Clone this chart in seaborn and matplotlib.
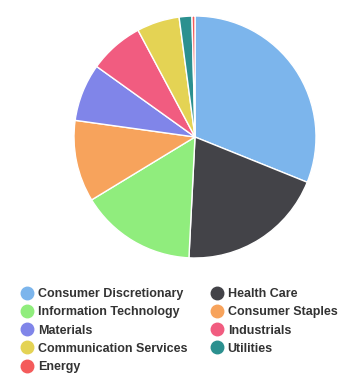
import matplotlib.pyplot as plt
from matplotlib.lines import Line2D
import seaborn as sns

sectors = ["Consumer Discretionary", "Health Care", "Information Technology",
           "Consumer Staples", "Materials", "Industrials",
           "Communication Services", "Utilities", "Energy"]
weights = [31.1, 19.7, 15.5, 10.9, 7.7, 7.3, 5.7, 1.7, 0.4]
colors = ["#7cb5ec", "#434348", "#90ed7d", "#f7a35c", "#8085e9",
          "#f15c80", "#e4d354", "#2b908f", "#f45b5b"]

sns.set_style("white")
plt.rcParams["font.family"] = ["Liberation Sans", "DejaVu Sans"]

W, H = 355, 387
fig = plt.figure(figsize=(W / 100, H / 100), dpi=100)
cx, cy, r = 195, 137, 121
ax = fig.add_axes([(cx - r) / W, (H - cy - r) / H, 2 * r / W, 2 * r / H])
ax.pie(weights, colors=colors, startangle=90, counterclock=False,
       wedgeprops=dict(edgecolor="white", linewidth=1))
ax.set_xlim(-1, 1)
ax.set_ylim(-1, 1)
ax.set_aspect("equal")
ax.axis("off")

# legend in row-major order like the original -> reorder for column-major fill
order = [0, 2, 4, 6, 8, 1, 3, 5, 7]
handles = [Line2D([], [], marker="o", linestyle="", markersize=9,
                  markerfacecolor=colors[i], markeredgecolor=colors[i])
           for i in order]
labels = [sectors[i] for i in order]
fig.legend(handles, labels, ncol=2, loc="upper left",
           bbox_to_anchor=(22 / W, 1 - 288 / H), frameon=False,
           prop=dict(weight="bold", size=9), labelcolor="#333333",
           handlelength=0.8, handletextpad=0.5, columnspacing=1.9,
           labelspacing=0.5, borderpad=0, borderaxespad=0)

fig.savefig("out.png", dpi=100)
